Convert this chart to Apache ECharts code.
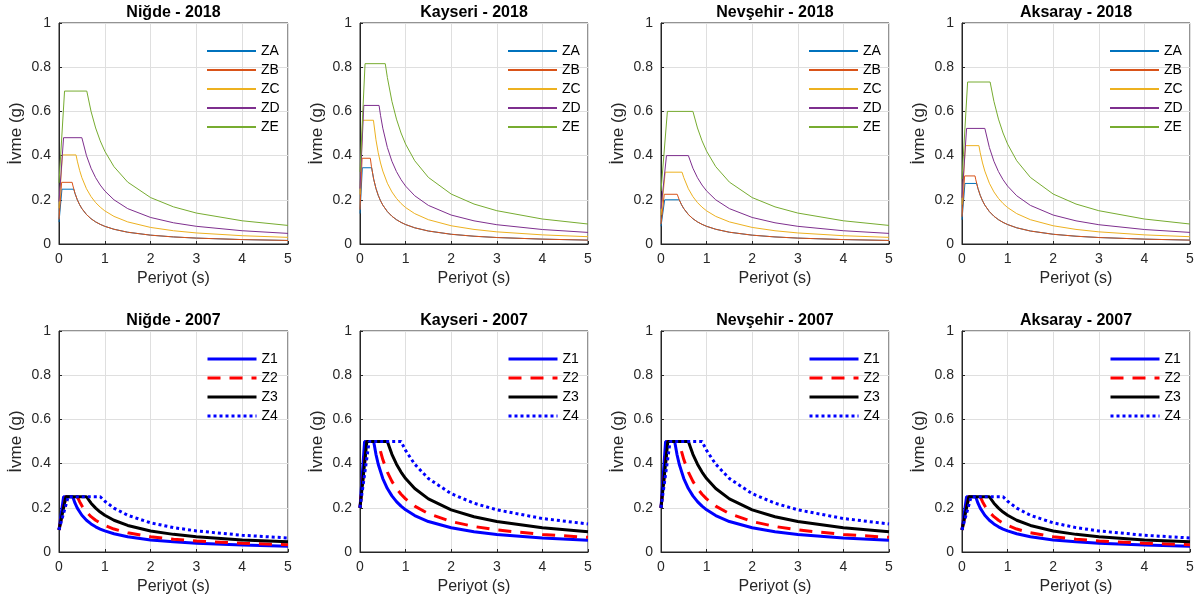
<!DOCTYPE html>
<html lang="tr">
<head>
<meta charset="UTF-8">
<title>Tasarım spektrumları 2018 / 2007</title>
<script src="https://cdn.jsdelivr.net/npm/echarts@6/dist/echarts.min.js"></script>
<style>html,body{margin:0;padding:0;background:#fff;}</style>
</head>
<body>
<div id="chart" style="width:1200px;height:604px;"></div>
<script>
// spektrum noktaları: [periyot (s), ivme (g)]

// --- 2018
const nigde2018ZA = [[0,0.0992],[0.0645,0.248],[0.3226,0.248],[0.35,0.2286],[0.4,0.2],[0.45,0.1778],[0.5,0.16],[0.6,0.1333],[0.7,0.1143],[0.8,0.1],[0.9,0.0889],[1,0.08],[1.2,0.0667],[1.5,0.0533],[2,0.04],[2.5,0.032],[3,0.0267],[4,0.02],[5,0.016]];
const nigde2018ZB = [[0,0.1116],[0.0573,0.279],[0.2867,0.279],[0.3,0.2667],[0.35,0.2286],[0.4,0.2],[0.45,0.1778],[0.5,0.16],[0.6,0.1333],[0.7,0.1143],[0.8,0.1],[0.9,0.0889],[1,0.08],[1.2,0.0667],[1.5,0.0533],[2,0.04],[2.5,0.032],[3,0.0267],[4,0.02],[5,0.016]];
const nigde2018ZC = [[0,0.1612],[0.0744,0.403],[0.3722,0.403],[0.4,0.375],[0.45,0.3333],[0.5,0.3],[0.6,0.25],[0.7,0.2143],[0.8,0.1875],[0.9,0.1667],[1,0.15],[1.2,0.125],[1.5,0.1],[2,0.075],[2.5,0.06],[3,0.05],[4,0.0375],[5,0.03]];
const nigde2018ZD = [[0,0.1924],[0.0998,0.481],[0.499,0.481],[0.6,0.4],[0.7,0.3429],[0.8,0.3],[0.9,0.2667],[1,0.24],[1.2,0.2],[1.5,0.16],[2,0.12],[2.5,0.096],[3,0.08],[4,0.06],[5,0.048]];
const nigde2018ZE = [[0,0.2768],[0.1214,0.692],[0.6069,0.692],[0.7,0.6],[0.8,0.525],[0.9,0.4667],[1,0.42],[1.2,0.35],[1.5,0.28],[2,0.21],[2.5,0.168],[3,0.14],[4,0.105],[5,0.084]];

const kayseri2018ZA = [[0,0.138],[0.051,0.345],[0.2551,0.345],[0.3,0.2933],[0.35,0.2514],[0.4,0.22],[0.45,0.1956],[0.5,0.176],[0.6,0.1467],[0.7,0.1257],[0.8,0.11],[0.9,0.0978],[1,0.088],[1.2,0.0733],[1.5,0.0587],[2,0.044],[2.5,0.0352],[3,0.0293],[4,0.022],[5,0.0176]];
const kayseri2018ZB = [[0,0.1552],[0.0454,0.388],[0.2268,0.388],[0.25,0.352],[0.3,0.2933],[0.35,0.2514],[0.4,0.22],[0.45,0.1956],[0.5,0.176],[0.6,0.1467],[0.7,0.1257],[0.8,0.11],[0.9,0.0978],[1,0.088],[1.2,0.0733],[1.5,0.0587],[2,0.044],[2.5,0.0352],[3,0.0293],[4,0.022],[5,0.0176]];
const kayseri2018ZC = [[0,0.224],[0.0589,0.56],[0.2946,0.56],[0.35,0.4714],[0.4,0.4125],[0.45,0.3667],[0.5,0.33],[0.6,0.275],[0.7,0.2357],[0.8,0.2063],[0.9,0.1833],[1,0.165],[1.2,0.1375],[1.5,0.11],[2,0.0825],[2.5,0.066],[3,0.055],[4,0.0413],[5,0.033]];
const kayseri2018ZD = [[0,0.2508],[0.0836,0.627],[0.4179,0.627],[0.45,0.5822],[0.5,0.524],[0.6,0.4367],[0.7,0.3743],[0.8,0.3275],[0.9,0.2911],[1,0.262],[1.2,0.2183],[1.5,0.1747],[2,0.131],[2.5,0.1048],[3,0.0873],[4,0.0655],[5,0.0524]];
const kayseri2018ZE = [[0,0.3264],[0.1108,0.816],[0.5539,0.816],[0.6,0.7533],[0.7,0.6457],[0.8,0.565],[0.9,0.5022],[1,0.452],[1.2,0.3767],[1.5,0.3013],[2,0.226],[2.5,0.1808],[3,0.1507],[4,0.113],[5,0.0904]];

const nevsehir2018ZA = [[0,0.08],[0.08,0.2],[0.4,0.2],[0.45,0.1778],[0.5,0.16],[0.6,0.1333],[0.7,0.1143],[0.8,0.1],[0.9,0.0889],[1,0.08],[1.2,0.0667],[1.5,0.0533],[2,0.04],[2.5,0.032],[3,0.0267],[4,0.02],[5,0.016]];
const nevsehir2018ZB = [[0,0.09],[0.0711,0.225],[0.3556,0.225],[0.4,0.2],[0.45,0.1778],[0.5,0.16],[0.6,0.1333],[0.7,0.1143],[0.8,0.1],[0.9,0.0889],[1,0.08],[1.2,0.0667],[1.5,0.0533],[2,0.04],[2.5,0.032],[3,0.0267],[4,0.02],[5,0.016]];
const nevsehir2018ZC = [[0,0.13],[0.0923,0.325],[0.4615,0.325],[0.5,0.3],[0.6,0.25],[0.7,0.2143],[0.8,0.1875],[0.9,0.1667],[1,0.15],[1.2,0.125],[1.5,0.1],[2,0.075],[2.5,0.06],[3,0.05],[4,0.0375],[5,0.03]];
const nevsehir2018ZD = [[0,0.16],[0.12,0.4],[0.6,0.4],[0.7,0.3429],[0.8,0.3],[0.9,0.2667],[1,0.24],[1.2,0.2],[1.5,0.16],[2,0.12],[2.5,0.096],[3,0.08],[4,0.06],[5,0.048]];
const nevsehir2018ZE = [[0,0.24],[0.14,0.6],[0.7,0.6],[0.8,0.525],[0.9,0.4667],[1,0.42],[1.2,0.35],[1.5,0.28],[2,0.21],[2.5,0.168],[3,0.14],[4,0.105],[5,0.084]];

const aksaray2018ZA = [[0,0.1096],[0.0642,0.274],[0.3212,0.274],[0.35,0.2514],[0.4,0.22],[0.45,0.1956],[0.5,0.176],[0.6,0.1467],[0.7,0.1257],[0.8,0.11],[0.9,0.0978],[1,0.088],[1.2,0.0733],[1.5,0.0587],[2,0.044],[2.5,0.0352],[3,0.0293],[4,0.022],[5,0.0176]];
const aksaray2018ZB = [[0,0.1232],[0.0571,0.308],[0.2857,0.308],[0.3,0.2933],[0.35,0.2514],[0.4,0.22],[0.45,0.1956],[0.5,0.176],[0.6,0.1467],[0.7,0.1257],[0.8,0.11],[0.9,0.0978],[1,0.088],[1.2,0.0733],[1.5,0.0587],[2,0.044],[2.5,0.0352],[3,0.0293],[4,0.022],[5,0.0176]];
const aksaray2018ZC = [[0,0.178],[0.0742,0.445],[0.3708,0.445],[0.4,0.4125],[0.45,0.3667],[0.5,0.33],[0.6,0.275],[0.7,0.2357],[0.8,0.2063],[0.9,0.1833],[1,0.165],[1.2,0.1375],[1.5,0.11],[2,0.0825],[2.5,0.066],[3,0.055],[4,0.0413],[5,0.033]];
const aksaray2018ZD = [[0,0.2092],[0.1002,0.523],[0.501,0.523],[0.6,0.4367],[0.7,0.3743],[0.8,0.3275],[0.9,0.2911],[1,0.262],[1.2,0.2183],[1.5,0.1747],[2,0.131],[2.5,0.1048],[3,0.0873],[4,0.0655],[5,0.0524]];
const aksaray2018ZE = [[0,0.2932],[0.1233,0.733],[0.6166,0.733],[0.7,0.6457],[0.8,0.565],[0.9,0.5022],[1,0.452],[1.2,0.3767],[1.5,0.3013],[2,0.226],[2.5,0.1808],[3,0.1507],[4,0.113],[5,0.0904]];

// --- 2007 (Niğde ve Aksaray: tepe 0.25 g, Kayseri ve Nevşehir: tepe 0.5 g)
const low2007Z1 = [[0,0.1],[0.1,0.25],[0.3,0.25],[0.35,0.221],[0.4,0.1986],[0.5,0.1661],[0.6,0.1436],[0.7,0.1269],[0.8,0.1141],[0.9,0.1038],[1,0.0954],[1.2,0.0825],[1.5,0.069],[2,0.0548],[2.5,0.0459],[3,0.0396],[4,0.0315],[5,0.0263]];
const low2007Z2 = [[0,0.1],[0.15,0.25],[0.4,0.25],[0.45,0.2275],[0.5,0.2091],[0.6,0.1808],[0.7,0.1598],[0.8,0.1436],[0.9,0.1307],[1,0.1201],[1.2,0.1038],[1.5,0.0868],[2,0.069],[2.5,0.0577],[3,0.0499],[4,0.0396],[5,0.0332]];
const low2007Z3 = [[0,0.1],[0.15,0.25],[0.6,0.25],[0.7,0.221],[0.8,0.1986],[0.9,0.1808],[1,0.1661],[1.2,0.1436],[1.5,0.1201],[2,0.0954],[2.5,0.0798],[3,0.069],[4,0.0548],[5,0.0459]];
const low2007Z4 = [[0,0.1],[0.2,0.25],[0.9,0.25],[1,0.2298],[1.2,0.1986],[1.5,0.1661],[2,0.132],[2.5,0.1104],[3,0.0954],[4,0.0758],[5,0.0634]];

const high2007Z1 = [[0,0.2],[0.1,0.5],[0.3,0.5],[0.35,0.442],[0.4,0.3972],[0.5,0.3323],[0.6,0.2872],[0.7,0.2539],[0.8,0.2282],[0.9,0.2077],[1,0.1909],[1.2,0.165],[1.5,0.138],[2,0.1096],[2.5,0.0917],[3,0.0793],[4,0.063],[5,0.0527]];
const high2007Z2 = [[0,0.2],[0.15,0.5],[0.4,0.5],[0.45,0.4551],[0.5,0.4183],[0.6,0.3615],[0.7,0.3196],[0.8,0.2872],[0.9,0.2614],[1,0.2402],[1.2,0.2077],[1.5,0.1737],[2,0.138],[2.5,0.1154],[3,0.0998],[4,0.0793],[5,0.0663]];
const high2007Z3 = [[0,0.2],[0.15,0.5],[0.6,0.5],[0.7,0.442],[0.8,0.3972],[0.9,0.3615],[1,0.3323],[1.2,0.2872],[1.5,0.2402],[2,0.1909],[2.5,0.1597],[3,0.138],[4,0.1096],[5,0.0917]];
const high2007Z4 = [[0,0.2],[0.2,0.5],[0.9,0.5],[1,0.4596],[1.2,0.3972],[1.5,0.3323],[2,0.264],[2.5,0.2208],[3,0.1909],[4,0.1516],[5,0.1268]];

const zones2018 = ['ZA', 'ZB', 'ZC', 'ZD', 'ZE'];
const zones2007 = ['Z1', 'Z2', 'Z3', 'Z4'];

const panels = [
    { title: 'Niğde - 2018', names: zones2018, curves: [nigde2018ZA, nigde2018ZB, nigde2018ZC, nigde2018ZD, nigde2018ZE] },
    { title: 'Kayseri - 2018', names: zones2018, curves: [kayseri2018ZA, kayseri2018ZB, kayseri2018ZC, kayseri2018ZD, kayseri2018ZE] },
    { title: 'Nevşehir - 2018', names: zones2018, curves: [nevsehir2018ZA, nevsehir2018ZB, nevsehir2018ZC, nevsehir2018ZD, nevsehir2018ZE] },
    { title: 'Aksaray - 2018', names: zones2018, curves: [aksaray2018ZA, aksaray2018ZB, aksaray2018ZC, aksaray2018ZD, aksaray2018ZE] },
    { title: 'Niğde - 2007', names: zones2007, curves: [low2007Z1, low2007Z2, low2007Z3, low2007Z4] },
    { title: 'Kayseri - 2007', names: zones2007, curves: [high2007Z1, high2007Z2, high2007Z3, high2007Z4] },
    { title: 'Nevşehir - 2007', names: zones2007, curves: [high2007Z1, high2007Z2, high2007Z3, high2007Z4] },
    { title: 'Aksaray - 2007', names: zones2007, curves: [low2007Z1, low2007Z2, low2007Z3, low2007Z4] }
];

// çizgi stilleri
const style2018 = [
    { color: '#0072BD', width: 1, type: 'solid' },
    { color: '#D95319', width: 1, type: 'solid' },
    { color: '#EDB120', width: 1, type: 'solid' },
    { color: '#7E2F8E', width: 1, type: 'solid' },
    { color: '#77AC30', width: 1, type: 'solid' }
];
const style2007 = [
    { color: '#0000FF', width: 3, type: 'solid' },
    { color: '#FF0000', width: 3, type: [13, 9] },
    { color: '#000000', width: 3, type: 'solid' },
    { color: '#0000FF', width: 3, type: [3, 3] }
];

const FONT = '"Liberation Sans", Arial, Helvetica, sans-serif';
const AXIS_COLOR = '#262626';
const lefts = [59, 360, 661, 962];
const widths = [229, 228, 228, 228];
const tops = [23, 331];
const plotH = 221;

const grids = [], xAxes = [], yAxes = [], titles = [], legends = [], series = [];

panels.forEach((p, i) => {
    const col = i % 4, row = Math.floor(i / 4);
    const left = lefts[col], top = tops[row], w = widths[col];
    const is2018 = p.names.length === 5;
    grids.push({ left: left, top: top, width: w, height: plotH, show: true, borderColor: AXIS_COLOR, borderWidth: 1, backgroundColor: '#fff' });
    titles.push({
        text: p.title, left: left + w / 2, top: top - 18, textAlign: 'center', padding: 0,
        textStyle: { fontFamily: FONT, fontSize: 16, fontWeight: 'bold', color: '#000' }
    });
    xAxes.push({
        type: 'value', gridIndex: i, min: 0, max: 5, interval: 1,
        name: 'Periyot (s)', nameLocation: 'middle', nameGap: 27,
        nameTextStyle: { fontFamily: FONT, fontSize: 16, color: AXIS_COLOR },
        axisLine: { lineStyle: { color: AXIS_COLOR, width: 1 } },
        axisTick: { inside: true, length: 3, lineStyle: { color: AXIS_COLOR } },
        axisLabel: { fontFamily: FONT, fontSize: 14, color: AXIS_COLOR, margin: 8 },
        splitLine: { show: true, lineStyle: { color: '#dfdfdf', width: 1 } }
    });
    yAxes.push({
        type: 'value', gridIndex: i, min: 0, max: 1, interval: 0.2,
        name: 'İvme (g)', nameLocation: 'middle', nameGap: 34,
        nameTextStyle: { fontFamily: FONT, fontSize: 17, color: AXIS_COLOR },
        axisLine: { show: true, lineStyle: { color: AXIS_COLOR, width: 1 } },
        axisTick: { show: true, inside: true, length: 3, lineStyle: { color: AXIS_COLOR } },
        axisLabel: { fontFamily: FONT, fontSize: 14, color: AXIS_COLOR, margin: 8 },
        splitLine: { show: true, lineStyle: { color: '#dfdfdf', width: 1 } }
    });
    legends.push({
        data: p.names, orient: 'vertical', left: left + 142, top: top + 16,
        itemWidth: 49, itemHeight: 14, itemGap: 5, selectedMode: false,
        itemStyle: { opacity: 0 },
        lineStyle: { width: is2018 ? 2 : 'inherit' },
        textStyle: { fontFamily: FONT, fontSize: 14, color: '#000' }
    });
    const styles = is2018 ? style2018 : style2007;
    p.curves.forEach((d, k) => {
        series.push({
            type: 'line', name: p.names[k], xAxisIndex: i, yAxisIndex: i,
            data: d, symbol: 'none', animation: false,
            itemStyle: { color: styles[k].color },
            lineStyle: { color: styles[k].color, width: styles[k].width, type: styles[k].type }
        });
    });
});

const chart = echarts.init(document.getElementById('chart'));
chart.setOption({
    backgroundColor: '#fff',
    animation: false,
    title: titles,
    grid: grids,
    xAxis: xAxes,
    yAxis: yAxes,
    legend: legends,
    series: series
});
</script>
</body>
</html>
